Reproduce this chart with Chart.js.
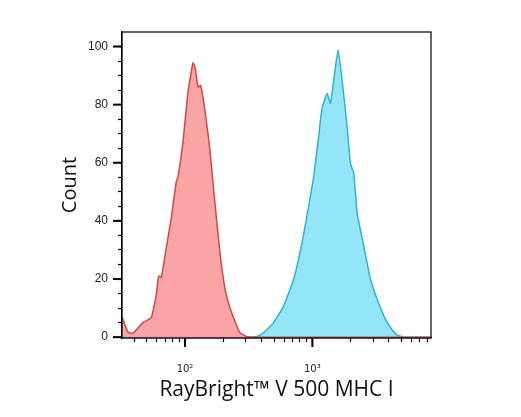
<!DOCTYPE html>
<html>
<head>
<meta charset="utf-8">
<script src="https://cdn.jsdelivr.net/npm/chart.js@4/dist/chart.umd.min.js"></script>
<style>
html,body{margin:0;padding:0;background:#fff;}
#wrap{width:521px;height:417px;}
</style>
</head>
<body>
<div id="wrap"><canvas id="c" width="521" height="417"></canvas></div>
<script>
// Data
const redX = [32, 35.6, 39, 46.7, 54.3, 59.5, 62.1, 65.1, 71.3, 78, 85.4, 88.1, 96.4, 105.6, 115.6, 120.5, 126.5, 132.9, 144.5, 156.4, 171.3, 187.6, 205.4, 224.9, 246.2, 269.6, 304, 356, 8550];
const redY = [7, 1.8, 1.3, 5.0, 6.7, 14.7, 21, 20.6, 30.7, 41, 53.5, 55.2, 67.2, 84.4, 94.4, 92.4, 86.1, 86.6, 77, 65, 46.7, 29.6, 17, 10.2, 5.6, 1.6, 0.2, 0, 0];
const blueX = [32, 325, 367, 414, 496, 594, 713, 829, 935, 1024, 1121, 1192, 1306, 1386, 1473, 1594, 1713, 1876, 1992, 2115, 2249, 2536, 2863, 3229, 3642, 4110, 4642, 5237, 8550];
const blueY = [0, 0, 0.2, 1.6, 5, 10.7, 19.9, 32.4, 45, 55.2, 69, 78.7, 83.8, 80.4, 88.4, 98.9, 88.4, 72.4, 59.8, 56.4, 42.7, 31.3, 19.9, 13, 7.3, 3.3, 0.7, 0, 0];
const xMajorTicks = [100, 1000];
const xMinorTicks = [40, 50, 60, 70, 80, 90, 200, 300, 400, 500, 600, 700, 800, 900, 2000, 3000, 4000, 5000, 6000, 7000, 8000];
const xTickLabels = {100: '10\u00B2', 1000: '10\u00B3'};
const yMajorTicks = [0, 20, 40, 60, 80, 100];
const yMinorStep = 5;
const xTitle = 'RayBright\u2122 V 500 MHC I';
const yTitle = 'Count';

const toPts = (xs, ys) => xs.map((x, i) => ({x: x, y: ys[i]}));

const frame = {
  id: 'frame',
  afterDraw(chart) {
    const {ctx, chartArea: a, scales} = chart;
    ctx.save();
    ctx.strokeStyle = '#000';
    ctx.lineWidth = 1.2;
    ctx.strokeRect(a.left, a.top, a.right - a.left, a.bottom - a.top);
    // longer major ticks
    ctx.lineWidth = 2;
    xMajorTicks.forEach(v => {
      const px = scales.x.getPixelForValue(v);
      ctx.beginPath(); ctx.moveTo(px, a.bottom); ctx.lineTo(px, a.bottom + 9); ctx.stroke();
    });
    yMajorTicks.forEach(v => {
      const py = scales.y.getPixelForValue(v);
      ctx.beginPath(); ctx.moveTo(a.left, py); ctx.lineTo(a.left - 9, py); ctx.stroke();
    });
    ctx.restore();
  }
};

new Chart(document.getElementById('c'), {
  type: 'line',
  data: {
    datasets: [
      {
        data: toPts(redX, redY),
        borderColor: '#D04848',
        backgroundColor: 'rgba(249,160,160,0.95)',
        borderWidth: 1.5,
        fill: 'origin',
        pointRadius: 0,
        tension: 0.15
      },
      {
        data: toPts(blueX, blueY),
        borderColor: '#2BB5D0',
        backgroundColor: 'rgba(142,228,248,0.95)',
        borderWidth: 1.5,
        fill: 'origin',
        pointRadius: 0,
        tension: 0.15
      }
    ]
  },
  options: {
    responsive: false,
    animation: false,
    devicePixelRatio: 1,
    layout: {padding: {left: 55, right: 90, top: 32, bottom: 0}},
    plugins: {legend: {display: false}, tooltip: {enabled: false}},
    scales: {
      x: {
        type: 'logarithmic',
        min: 32,
        max: 8550,
        afterFit(s) { s.height = 79; },
        afterBuildTicks(s) {
          s.ticks = xMajorTicks.concat(xMinorTicks).sort((a, b) => a - b).map(v => ({value: v}));
        },
        grid: {drawOnChartArea: false, tickLength: 4, tickColor: '#000', tickWidth: 1.2},
        border: {display: true, color: '#000', width: 1.2},
        ticks: {
          autoSkip: false,
          maxRotation: 0,
          padding: 21,
          color: '#222',
          font: {family: 'DejaVu Sans', size: 10},
          callback: (v) => xTickLabels[v] || ''
        },
        title: {
          display: true,
          text: xTitle,
          color: '#111',
          font: {family: 'Open Sans', size: 21},
          padding: {top: 0, bottom: 14}
        }
      },
      y: {
        min: -0.3,
        max: 105,
        afterFit(s) { s.width = 67; },
        afterBuildTicks(s) {
          const t = [];
          for (let v = 0; v <= 100; v += yMinorStep) t.push({value: v});
          s.ticks = t;
        },
        grid: {drawOnChartArea: false, tickLength: 4, tickColor: '#000', tickWidth: 1.2},
        border: {display: true, color: '#000', width: 1.2},
        ticks: {
          autoSkip: false,
          padding: 10,
          color: '#222',
          font: {family: 'Liberation Sans', size: 12},
          callback: (v) => yMajorTicks.includes(v) ? String(v) : ''
        },
        title: {
          display: true,
          text: yTitle,
          color: '#111',
          font: {family: 'Open Sans', size: 20},
          padding: {top: 3, bottom: 0}
        }
      }
    }
  },
  plugins: [frame]
});
</script>
</body>
</html>
